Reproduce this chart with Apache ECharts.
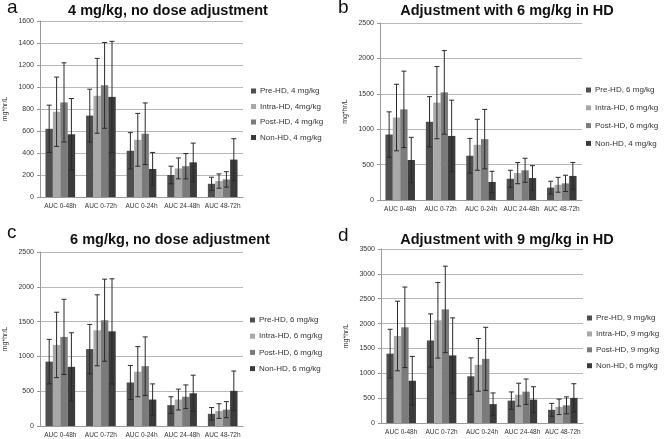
<!DOCTYPE html>
<html>
<head>
<meta charset="UTF-8">
<title></title>
<script src="https://cdn.jsdelivr.net/npm/echarts@6/dist/echarts.min.js"></script>
</head>
<body style="margin:0">
<div id="main" style="width:664px;height:439px;"></div>
<script>
var categories = ['AUC 0-48h', 'AUC 0-72h', 'AUC 0-24h', 'AUC 24-48h', 'AUC 48-72h'];

// panel a: 4 mg/kg, no dose adjustment
var aNames = ['Pre-HD, 4 mg/kg', 'Intra-HD, 4mg/kg', 'Post-HD, 4 mg/kg', 'Non-HD, 4 mg/kg'];
var aMean = [[620, 740, 420, 200, 120], [775, 920, 520, 260, 145], [860, 1015, 575, 280, 160], [570, 910, 255, 315, 340]];
var aSd = [[215, 240, 165, 80, 60], [315, 340, 240, 95, 65], [360, 390, 280, 115, 70], [325, 505, 150, 175, 190]];

// panel b: adjustment with 6 mg/kg in HD
var bNames = ['Pre-HD, 6 mg/kg', 'Intra-HD, 6 mg/kg', 'Post-HD, 6 mg/kg', 'Non-HD, 4 mg/kg'];
var bMean = [[925, 1105, 625, 300, 175], [1165, 1375, 780, 380, 215], [1280, 1520, 860, 420, 235], [565, 905, 255, 310, 340]];
var bSd = [[320, 355, 245, 120, 90], [470, 510, 360, 150, 105], [540, 590, 420, 170, 115], [320, 505, 150, 175, 190]];

// panel c: 6 mg/kg, no dose adjustment
var cNames = ['Pre-HD, 6 mg/kg', 'Intra-HD, 6 mg/kg', 'Post-HD, 6 mg/kg', 'Non-HD, 6 mg/kg'];
var cMean = [[925, 1105, 625, 300, 175], [1165, 1375, 780, 380, 215], [1280, 1520, 860, 420, 235], [850, 1360, 380, 470, 505]];
var cSd = [[320, 355, 245, 120, 90], [470, 510, 360, 150, 105], [540, 590, 420, 170, 115], [490, 755, 225, 260, 285]];

// panel d: adjustment with 9 mg/kg in HD
var dNames = ['Pre-HD, 9 mg/kg', 'Intra-HD, 9 mg/kg', 'Post-HD, 9 mg/kg', 'Non-HD, 6 mg/kg'];
var dMean = [[1395, 1660, 940, 450, 265], [1750, 2065, 1170, 570, 325], [1925, 2285, 1290, 630, 355], [850, 1360, 380, 470, 505]];
var dSd = [[490, 535, 370, 175, 130], [700, 760, 530, 230, 155], [810, 870, 635, 255, 170], [490, 755, 225, 260, 285]];

var barColors = ['#4f4f4f', '#a8a8a8', '#7b7b7b', '#3b3b3b'];
var catGap = 0.27;

var panels = [
  {letter: 'a', title: '4 mg/kg, no dose adjustment', names: aNames, mean: aMean, sd: aSd, max: 1600, interval: 200,
   grid: {left: 40, right: 421, top: 21, bottom: 242}, titleX: 163, titleY: -2, letterX: 2, letterY: -7,
   legend: {left: 251, top: 87, itemGap: 7.5}},
  {letter: 'b', title: 'Adjustment with 6 mg/kg in HD', names: bNames, mean: bMean, sd: bSd, max: 2500, interval: 500,
   grid: {left: 380, right: 82, top: 23, bottom: 239}, titleX: 502, titleY: -2, letterX: 333, letterY: -7,
   legend: {left: 586, top: 86, itemGap: 9.8}},
  {letter: 'c', title: '6 mg/kg, no dose adjustment', names: cNames, mean: cMean, sd: cSd, max: 2500, interval: 500,
   grid: {left: 40, right: 421, top: 252, bottom: 13}, titleX: 165, titleY: 227, letterX: 2, letterY: 218,
   legend: {left: 250, top: 316, itemGap: 8.2}},
  {letter: 'd', title: 'Adjustment with 9 mg/kg in HD', names: dNames, mean: dMean, sd: dSd, max: 3500, interval: 500,
   grid: {left: 381, right: 81, top: 249, bottom: 16}, titleX: 502, titleY: 227, letterX: 333, letterY: 221,
   legend: {left: 587, top: 314, itemGap: 7.9}}
];

var option = {
  backgroundColor: '#fff',
  animation: false,
  textStyle: {fontFamily: 'Liberation Sans, Arial, sans-serif'},
  title: [], legend: [], grid: [], xAxis: [], yAxis: [], series: []
};

function errorRender(k) {
  return function(params, api) {
    var c = api.coord([api.value(0), api.value(1)]);
    var w = api.size([1, 0])[0];
    var gw = w * (1 - catGap);
    var bw = gw / 4;
    var x = c[0] - gw / 2 + bw * (k + 0.5);
    var top = api.coord([api.value(0), api.value(1) + api.value(2)])[1];
    var bot = api.coord([api.value(0), Math.max(0, api.value(1) - api.value(2))])[1];
    var st = {stroke: '#2a2a2a', lineWidth: 1};
    return {type: 'group', children: [
      {type: 'line', shape: {x1: x, y1: top, x2: x, y2: bot}, style: st},
      {type: 'line', shape: {x1: x - 2.5, y1: top, x2: x + 2.5, y2: top}, style: st},
      {type: 'line', shape: {x1: x - 2.5, y1: bot, x2: x + 2.5, y2: bot}, style: st}
    ]};
  };
}

panels.forEach(function(p, i) {
  option.title.push({text: p.title, left: p.titleX, top: p.titleY, textAlign: 'center',
    textStyle: {fontSize: 14.5, fontWeight: 'bold', color: '#111'}});
  option.title.push({text: p.letter, left: p.letterX, top: p.letterY,
    textStyle: {fontSize: 19, fontWeight: 'normal', color: '#111'}});
  option.grid.push(p.grid);
  option.xAxis.push({type: 'category', gridIndex: i, data: categories,
    axisLine: {lineStyle: {color: '#999'}},
    axisTick: {length: 3, lineStyle: {color: '#999'}},
    axisLabel: {interval: 0, fontSize: 6.5, color: '#333', margin: 6}});
  option.yAxis.push({type: 'value', gridIndex: i, min: 0, max: p.max, interval: p.interval,
    name: 'mg*hr/L', nameLocation: 'middle', nameGap: 31, nameTextStyle: {fontSize: 7, color: '#333'},
    axisLine: {show: true, lineStyle: {color: '#999'}},
    axisTick: {show: true, length: 3, lineStyle: {color: '#999'}},
    axisLabel: {fontSize: 7, color: '#333', margin: 6, formatter: function(v) { return String(v); }},
    splitLine: {lineStyle: {color: '#b8b8b8'}}});
  option.legend.push({orient: 'vertical', left: p.legend.left, top: p.legend.top, itemGap: p.legend.itemGap,
    padding: 0, itemWidth: 5, itemHeight: 5, icon: 'rect', data: p.names,
    textStyle: {fontSize: 8, color: '#333', padding: [0, 0, 0, -1]}});
  p.names.forEach(function(n, k) {
    option.series.push({type: 'bar', name: n, xAxisIndex: i, yAxisIndex: i, data: p.mean[k],
      barGap: '0%', barCategoryGap: (catGap * 100) + '%', itemStyle: {color: barColors[k]}});
  });
  p.names.forEach(function(n, k) {
    var d = p.mean[k].map(function(v, j) { return [j, v, p.sd[k][j]]; });
    option.series.push({type: 'custom', xAxisIndex: i, yAxisIndex: i, data: d, z: 5,
      renderItem: errorRender(k), encode: {x: 0, y: [1]}, silent: true});
  });
});

var chart = echarts.init(document.getElementById('main'));
chart.setOption(option);
</script>
</body>
</html>
